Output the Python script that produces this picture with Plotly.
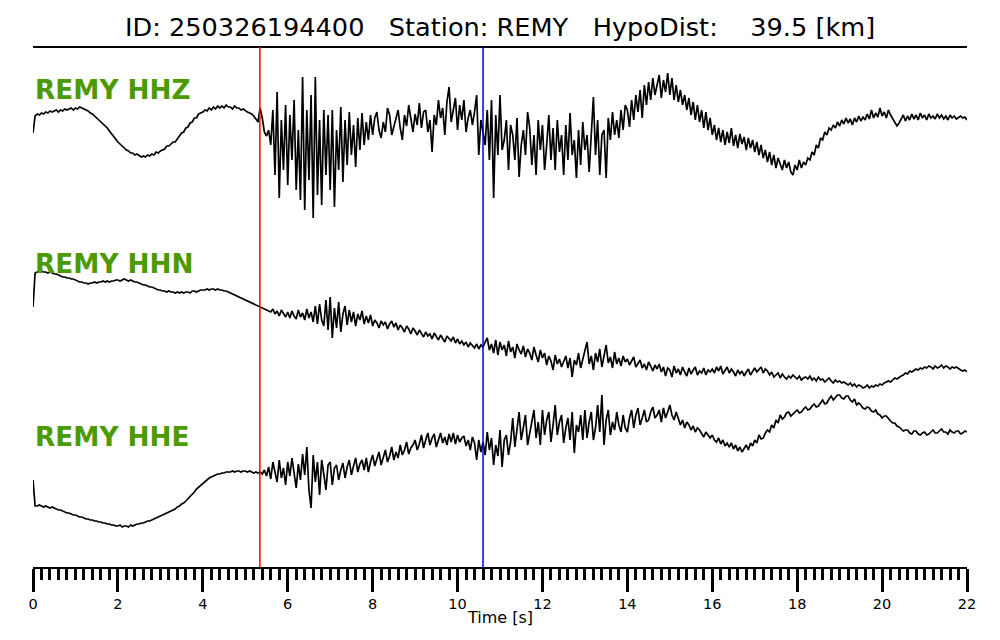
import numpy as np
import plotly.graph_objects as go

# ---------------- data (normalised amplitudes, positive up) ----------------
dt = 0.05   # s, sample interval of all three traces

hhz = [
    7, 24, 26, 25, 27, 26, 28, 27, 29, 28, 29, 30, 28, 30, 29, 31, 30, 31, 32, 30,
    32, 31, 33, 32, 31, 30, 29, 27, 26, 24, 22, 21, 19, 16, 14, 12, 9, 6, 3, 1,
    -2, -4, -6, -9, -10, -11, -13, -13, -15, -14, -16, -17, -16, -17, -15, -16, -14, -15, -12, -13,
    -11, -10, -9, -6, -6, -4, -2, -2, 1, 3, 7, 8, 12, 13, 17, 18, 22, 22, 26, 27,
    28, 30, 29, 32, 30, 33, 31, 34, 32, 34, 32, 35, 33, 33, 31, 34, 32, 32, 30, 31,
    29, 28, 27, 26, 24, 21, 18, 32, 22, 8, 4, 10, -5, 30, -35, 48, -58, 20, -30, 35,
    -45, 25, -20, 40, -50, 10, -60, 63, -70, 30, -40, 45, -78, 63, -55, 20, -65, 30, -35, 25,
    -50, 30, -67, 10, -30, 33, -42, 20, -25, 28, -15, 15, -27, 22, -10, 27, -5, 18, 0, 25,
    5, 22, 28, 10, 2, 18, 8, 32, 25, 5, 14, 20, 30, 12, 0, 25, 14, 35, 20, 8,
    26, 15, 37, 12, 28, 30, 8, 20, -12, 25, 15, 40, 22, 32, 5, 38, 53, 18, 30, 42,
    10, 35, 20, 40, 8, 22, 30, 15, 28, 45, -15, 20, 8, -5, 30, -20, 40, -58, 25, -15,
    45, -10, 0, 20, -30, 15, 5, -20, 22, -37, -5, 10, -15, 28, 12, -25, 5, -35, 20, -10,
    15, -30, -5, 25, -20, 12, -30, 20, -12, 5, -35, 15, -20, 27, -15, 0, -38, 10, -25, 18,
    -10, 5, -32, 12, 43, -15, 20, -35, 5, 10, -38, 22, 0, 28, 5, 20, 2, 30, 10, 35,
    30, 13, 40, 20, 45, 28, 50, 22, 55, 35, 58, 40, 62, 45, 55, 65, 42, 60, 48, 67,
    45, 62, 40, 55, 38, 50, 35, 45, 30, 42, 25, 38, 20, 35, 18, 30, 12, 28, 10, 22,
    5, 15, 0, 12, -2, 10, -5, 8, -3, 12, -6, 5, -8, 6, -4, 3, -10, 2, -8, 0,
    -12, -2, -15, -5, -18, -10, -22, -12, -25, -15, -28, -18, -24, -30, -20, -28, -22, -32, -35, -25,
    -30, -20, -28, -22, -25, -18, -20, -12, -15, -5, -8, 2, 0, 8, 5, 12, 10, 15, 12, 18,
    14, 20, 16, 22, 17, 21, 15, 22, 18, 24, 19, 23, 20, 26, 21, 30, 22, 27, 23, 32,
    24, 28, 22, 30, 25, 21, 18, 14, 17, 21, 25, 19, 24, 20, 26, 21, 25, 20, 27, 22,
    25, 20, 26, 22, 24, 21, 26, 22, 25, 21, 24, 20, 25, 22, 24, 21, 23, 24, 22, 23, 20,
]

hhn = [
    13, 47, 48, 49, 49, 48, 48, 47, 48, 47, 46, 46, 45, 44, 43, 43, 42, 42, 41, 41,
    40, 39, 38, 38, 37, 37, 36, 37, 37, 38, 37, 38, 38, 39, 38, 39, 38, 39, 39, 40,
    40, 39, 40, 41, 40, 39, 40, 39, 38, 38, 37, 36, 35, 35, 34, 33, 33, 32, 31, 30,
    30, 29, 29, 28, 29, 28, 28, 27, 28, 27, 28, 27, 28, 28, 27, 29, 29, 28, 29, 30,
    30, 30, 31, 30, 31, 31, 30, 31, 30, 30, 29, 29, 28, 27, 26, 25, 24, 23, 22, 21,
    20, 19, 18, 17, 16, 15, 14, 13, 12, 11, 10, 9, 8, 11, 6, 9, 4, 10, 7, 3,
    8, 2, 9, 4, 1, 10, 3, 7, 0, 11, 2, 8, -2, 14, -4, 16, 0, -6, 20, -10,
    23, -18, 12, -8, 18, -12, 6, 14, -5, 10, -2, 8, -6, 6, 0, 9, -4, 4, -3, 5,
    -6, 0, -3, -8, -1, -5, -2, -9, -4, -1, -7, -3, -10, -5, -8, -12, -6, -9, -14, -8,
    -11, -15, -10, -13, -17, -12, -16, -14, -19, -13, -17, -20, -15, -18, -22, -16, -19, -21, -17, -23,
    -19, -24, -21, -25, -22, -27, -23, -26, -28, -24, -29, -25, -27, -22, -18, -30, -24, -33, -20, -35,
    -22, -30, -25, -36, -21, -32, -27, -38, -24, -30, -34, -26, -37, -29, -33, -40, -27, -35, -42, -30,
    -38, -33, -45, -36, -41, -50, -35, -44, -39, -47, -42, -36, -48, -38, -57, -40, -45, -33, -48, -40,
    -30, -22, -44, -36, -50, -33, -42, -29, -47, -35, -25, -43, -37, -48, -32, -44, -38, -46, -36, -42,
    -39, -45, -41, -37, -47, -43, -40, -48, -44, -50, -42, -46, -51, -45, -49, -44, -52, -47, -56, -48,
    -50, -57, -46, -53, -49, -55, -47, -52, -56, -48, -54, -50, -47, -55, -51, -53, -48, -55, -50, -52,
    -49, -53, -47, -51, -46, -54, -50, -47, -53, -49, -52, -56, -50, -54, -51, -56, -52, -49, -55, -51,
    -48, -52, -50, -47, -53, -49, -51, -55, -52, -57, -55, -53, -58, -54, -57, -59, -56, -58, -55, -57,
    -59, -56, -60, -58, -57, -59, -56, -60, -58, -61, -57, -60, -59, -62, -60, -58, -61, -63, -60, -62,
    -61, -63, -62, -64, -65, -63, -66, -64, -67, -65, -66, -68, -67, -65, -68, -66, -67, -65, -66, -64,
    -65, -63, -62, -61, -62, -60, -58, -59, -57, -56, -55, -53, -54, -51, -52, -50, -49, -50, -48, -49,
    -47, -48, -46, -47, -49, -46, -48, -47, -45, -48, -46, -47, -49, -47, -48, -47, -49, -50, -51, -50, -52,
]

hhe = [
    -10, -36, -36, -35, -36, -37, -36, -37, -38, -37, -38, -39, -40, -40, -41, -42, -43, -43, -44, -45,
    -45, -46, -47, -47, -48, -49, -49, -50, -50, -51, -51, -52, -52, -53, -53, -54, -54, -55, -55, -56,
    -56, -55, -57, -56, -56, -57, -55, -56, -55, -54, -54, -53, -53, -52, -51, -51, -50, -49, -48, -47,
    -46, -45, -44, -43, -42, -41, -40, -39, -37, -36, -34, -33, -31, -29, -27, -24, -22, -19, -17, -15,
    -13, -11, -9, -8, -7, -6, -5, -4, -4, -3, -3, -2, -2, -2, -1, -2, -1, -1, -2, -1,
    -1, -2, -1, -2, -3, -2, -3, -2, -4, 0, -6, 3, -9, 8, -4, -12, 10, -8, 2, -15,
    8, -6, 12, -2, -18, 6, -10, 16, -5, 23, -20, -38, 15, -12, 8, -25, 10, -4, -20, 5,
    8, -15, 2, 5, -10, 0, 7, -8, 3, 10, -5, 4, 12, -2, 6, 10, 0, 12, -2, 8,
    15, 4, 10, 18, 5, 12, 20, 8, 14, 23, 10, 18, 12, 25, 15, 20, 28, 16, 22, 25,
    30, 20, 26, 35, 22, 30, 37, 25, 32, 36, 23, 30, 37, 27, 33, 25, 36, 28, 37, 26,
    35, 28, 32, 34, 24, 30, 20, 33, 27, 10, 30, 18, 28, 15, 38, 20, 32, 5, 25, 14,
    40, 3, 30, 35, 15, 28, 52, 23, 40, 58, 30, 45, 55, 25, 38, 50, 60, 32, 48, 25,
    60, 35, 50, 58, 28, 45, 65, 35, 48, 55, 27, 42, 52, 30, 58, 17, 45, 38, 55, 30,
    60, 32, 48, 58, 30, 42, 65, 38, 75, 25, 50, 60, 35, 48, 40, 58, 45, 38, 55, 42,
    38, 52, 60, 42, 55, 62, 45, 52, 60, 48, 50, 58, 63, 52, 55, 60, 48, 62, 52, 58,
    65, 55, 50, 58, 52, 45, 50, 42, 48, 45, 40, 44, 38, 42, 40, 36, 33, 38, 35, 32,
    35, 30, 28, 32, 26, 30, 24, 27, 23, 27, 21, 25, 19, 23, 18, 22, 25, 20, 27, 24,
    30, 27, 35, 31, 32, 37, 40, 38, 45, 42, 50, 47, 55, 51, 53, 57, 58, 54, 56, 59,
    60, 57, 58, 61, 63, 60, 61, 64, 66, 63, 64, 67, 70, 66, 67, 71, 74, 70, 72, 75,
    75, 72, 71, 74, 74, 70, 68, 71, 65, 67, 65, 62, 61, 63, 62, 59, 58, 60, 56, 55,
    52, 54, 54, 51, 49, 47, 47, 44, 43, 41, 39, 40, 40, 37, 36, 39, 39, 36, 35, 37,
    38, 35, 36, 38, 40, 37, 37, 39, 41, 38, 38, 36, 40, 38, 37, 39, 39, 36, 37, 39, 38,
]

channels = ["REMY HHZ", "REMY HHN", "REMY HHE"]
p_pick = 5.344   # s
s_pick = 10.60   # s
x_ticks = [0, 2, 4, 6, 8, 10, 12, 14, 16, 18, 20, 22]
title_text = "ID: 250326194400   Station: REMY   HypoDist:    39.5 [km]"

# ---------------- figure ----------------
offsets = [-140, -320, -470]
traces = [hhz, hhn, hhe]

fig = go.Figure()
for v, off in zip(traces, offsets):
    t = np.round(np.arange(len(v)) * dt, 3)
    fig.add_trace(go.Scatter(
        x=t, y=off + np.asarray(v, dtype=float), mode="lines",
        line=dict(color="black", width=1.7), showlegend=False, hoverinfo="skip",
    ))

FONT = "DejaVu Sans, Verdana, sans-serif"
GREEN = "#4c9a00"

label_y = [-90, -264, -437]
for name, ly in zip(channels, label_y):
    fig.add_annotation(x=0, xref="paper", y=ly, yref="y", text="<b>%s</b>" % name,
                       showarrow=False, xanchor="left", yanchor="middle", xshift=0,
                       font=dict(family=FONT, size=26.3, color=GREEN))

fig.add_annotation(x=0.5, xref="paper", y=1 + 20 / 520, yref="paper", text=title_text,
                   showarrow=False, xanchor="center", yanchor="middle",
                   font=dict(family=FONT, size=25.6, color="black"))
fig.add_annotation(x=0.5, xref="paper", y=-(617 - 567) / 520, yref="paper", text="Time [s]",
                   showarrow=False, xanchor="center", yanchor="middle",
                   font=dict(family=FONT, size=16, color="black"))

fig.add_shape(type="line", xref="paper", yref="paper", x0=0, x1=1, y0=1, y1=1,
              line=dict(color="black", width=2))
fig.add_shape(type="line", xref="x", yref="paper", x0=p_pick, x1=p_pick, y0=0, y1=1,
              line=dict(color="red", width=1.5))
fig.add_shape(type="line", xref="x", yref="paper", x0=s_pick, x1=s_pick, y0=0, y1=1,
              line=dict(color="blue", width=1.5))

# page body has an 8 px default margin; size the figure so the plot lands in place
fig.update_layout(
    width=984, height=624,
    margin=dict(l=25, r=25, t=39, b=65),
    paper_bgcolor="white", plot_bgcolor="white",
    template="none",
    showlegend=False,
    xaxis=dict(
        range=[0, 22], showgrid=False, zeroline=False,
        showline=True, linecolor="black", linewidth=2,
        ticks="outside", ticklen=23, tickwidth=2.5, tickcolor="black",
        tickvals=x_ticks, ticktext=[str(v) for v in x_ticks],
        tickfont=dict(family=FONT, size=14.5, color="black"),
        minor=dict(ticks="outside", ticklen=11, tickwidth=2.5, tickcolor="black",
                   dtick=0.2, tick0=0, showgrid=False),
    ),
    yaxis=dict(range=[-567, -47], visible=False, showgrid=False, zeroline=False),
)

fig.write_html("out.html")
